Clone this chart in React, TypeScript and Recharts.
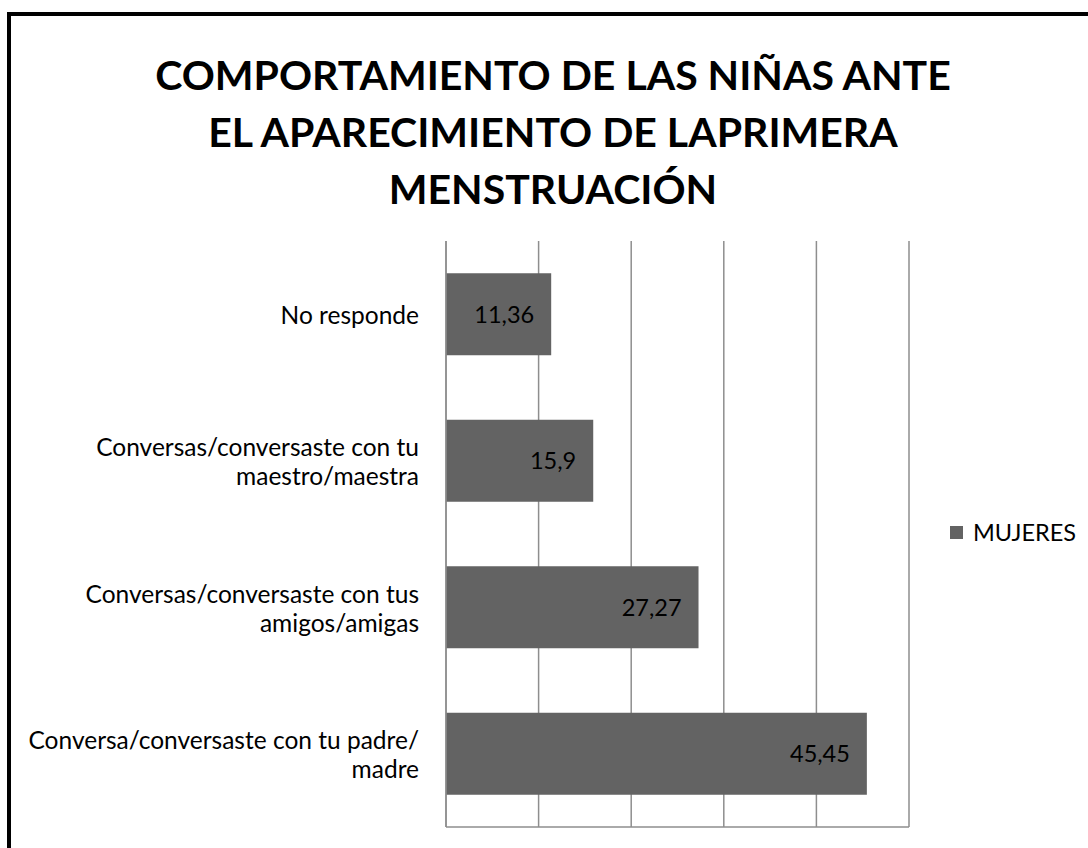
import React from 'react';
import { BarChart, Bar, XAxis, YAxis, CartesianGrid, LabelList, Legend } from 'recharts';

const categories = [
  'No responde',
  'Conversas/conversaste con tu\nmaestro/maestra',
  'Conversas/conversaste con tus\namigos/amigas',
  'Conversa/conversaste con tu padre/\nmadre',
];
const mujeres = [11.36, 15.9, 27.27, 45.45];
const xTicks = [0, 10, 20, 30, 40, 50];
const seriesName = 'MUJERES';
const titleLines = [
  'COMPORTAMIENTO DE LAS NIÑAS ANTE',
  'EL APARECIMIENTO DE LAPRIMERA',
  'MENSTRUACIÓN',
];

const data = categories.map((c, i) => ({ cat: c, value: mujeres[i] }));

const FONT = 'Lato, "Open Sans", sans-serif';
const BAR_COLOR = '#636363';
const GRID_COLOR = '#8e8e8e';

const CategoryTick = (props: any) => {
  const { x, y, payload } = props;
  const lines: string[] = String(payload.value).split('\n');
  const lh = 29;
  const startDy = -((lines.length - 1) * lh) / 2;
  return (
    <text x={x - 19} y={y} textAnchor="end" fontFamily={FONT} fontSize={24.5} fill="#000" dominantBaseline="central">
      {lines.map((l, i) => (
        <tspan key={i} x={x - 19} dy={i === 0 ? startDy : lh}>
          {l}
        </tspan>
      ))}
    </text>
  );
};

const EmptyTick = () => <g />;

const LegendContent = () => (
  <div style={{ display: 'flex', alignItems: 'center', fontFamily: FONT, fontSize: 23.5, color: '#000', paddingLeft: 41, whiteSpace: 'nowrap' }}>
    <span style={{ display: 'inline-block', flexShrink: 0, width: 13, height: 13, background: BAR_COLOR, marginRight: 10 }} />
    <span>{seriesName}</span>
  </div>
);

export default function App() {
  return (
    <div style={{ position: 'absolute', left: 0, top: 0, width: 1088, height: 848, overflow: 'hidden', background: '#fff' }}>
      <div
        style={{
          position: 'absolute',
          left: 7,
          top: 12,
          width: 1081,
          height: 836,
          borderLeft: '4px solid #000',
          borderTop: '4px solid #000',
          boxSizing: 'border-box',
        }}
      />
      <div
        style={{
          position: 'absolute',
          left: 0,
          top: 46,
          width: 1106,
          textAlign: 'center',
          fontFamily: FONT,
          fontWeight: 700,
          fontSize: 41,
          lineHeight: '57px',
          color: '#000',
        }}
      >
        {titleLines.map((t, i) => (
          <div key={i}>{t}</div>
        ))}
      </div>
      <div style={{ position: 'absolute', left: 0, top: 0 }}>
        <BarChart
          width={1088}
          height={848}
          data={data}
          layout="vertical"
          margin={{ top: 241, right: 0, bottom: 20, left: 0 }}
          barCategoryGap="22%"
        >
          <CartesianGrid horizontal={false} vertical={true} stroke={GRID_COLOR} strokeWidth={1.5} />
          <XAxis
            type="number"
            domain={[0, 50]}
            ticks={xTicks}
            tick={<EmptyTick />}
            tickLine={false}
            axisLine={{ stroke: GRID_COLOR, strokeWidth: 1.5 }}
            height={1}
          />
          <YAxis
            type="category"
            dataKey="cat"
            width={446}
            tickLine={false}
            axisLine={{ stroke: GRID_COLOR, strokeWidth: 1.5 }}
            tick={<CategoryTick />}
            interval={0}
          />
          <Legend
            layout="vertical"
            align="right"
            verticalAlign="middle"
            content={<LegendContent />}
            wrapperStyle={{ width: 179, left: 909, top: 518 }}
          />
          <Bar dataKey="value" name={seriesName} fill={BAR_COLOR} isAnimationActive={false}>
            <LabelList
              dataKey="value"
              position="insideRight"
              offset={17}
              fill="#000"
              fontFamily={FONT}
              fontSize={23.5}
              formatter={(v: any) => String(v).replace('.', ',')}
            />
          </Bar>
        </BarChart>
      </div>
    </div>
  );
}
